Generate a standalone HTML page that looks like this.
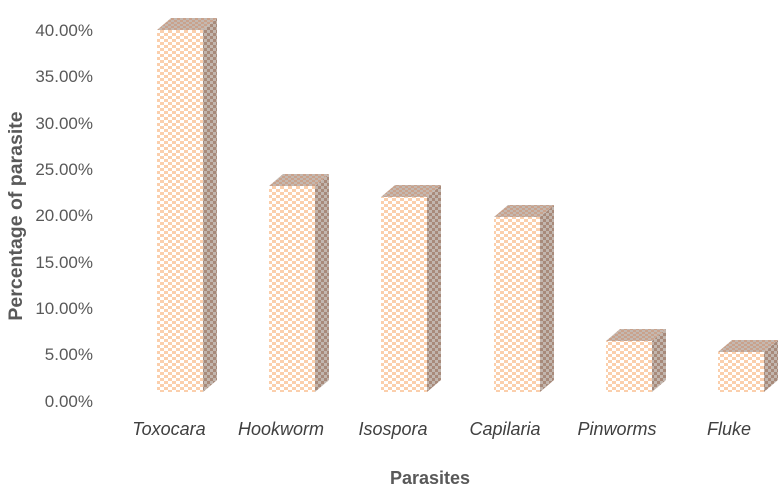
<!DOCTYPE html>
<html><head><meta charset="utf-8"><style>
html,body{margin:0;padding:0;background:#fff;}
</style></head><body>
<svg width="784" height="491" xmlns="http://www.w3.org/2000/svg" font-family="Liberation Sans, sans-serif">
<defs>
<pattern id="f" width="8" height="6" patternUnits="userSpaceOnUse">
<rect width="8" height="6" fill="#fff"/>
<rect x="0" y="0" width="4" height="3" fill="#fbcfac"/>
<rect x="4" y="3" width="4" height="3" fill="#fbcfac"/>
</pattern>
<pattern id="s" width="6" height="6" patternUnits="userSpaceOnUse">
<rect width="6" height="6" fill="#c2b6ae"/>
<rect x="0" y="0" width="3" height="3" fill="#a88a7a"/>
<rect x="3" y="3" width="3" height="3" fill="#a88a7a"/>
</pattern>
<pattern id="t" width="6" height="4" patternUnits="userSpaceOnUse">
<rect width="6" height="4" fill="#c4b8b0"/>
<rect x="0" y="0" width="3" height="2" fill="#c9a28c"/>
<rect x="3" y="2" width="3" height="2" fill="#c9a28c"/>
</pattern>
</defs>
<g font-size="17" fill="#595959" text-anchor="end">
<text x="93" y="36">40.00%</text>
<text x="93" y="82">35.00%</text>
<text x="93" y="129">30.00%</text>
<text x="93" y="175">25.00%</text>
<text x="93" y="221">20.00%</text>
<text x="93" y="268">15.00%</text>
<text x="93" y="314">10.00%</text>
<text x="93" y="360">5.00%</text>
<text x="93" y="407">0.00%</text>
</g>
<g>
<g><rect x="157" y="30" width="46" height="362" fill="url(#f)"/><polygon points="203,30 217,18 217,380 203,392" fill="url(#s)"/><polygon points="157,30 171,18 217,18 203,30" fill="url(#t)"/></g>
<g><rect x="269" y="186" width="46" height="206" fill="url(#f)"/><polygon points="315,186 329,174 329,380 315,392" fill="url(#s)"/><polygon points="269,186 283,174 329,174 315,186" fill="url(#t)"/></g>
<g><rect x="381" y="197" width="46" height="195" fill="url(#f)"/><polygon points="427,197 441,185 441,380 427,392" fill="url(#s)"/><polygon points="381,197 395,185 441,185 427,197" fill="url(#t)"/></g>
<g><rect x="494" y="217" width="46" height="175" fill="url(#f)"/><polygon points="540,217 554,205 554,380 540,392" fill="url(#s)"/><polygon points="494,217 508,205 554,205 540,217" fill="url(#t)"/></g>
<g><rect x="606" y="341" width="46" height="51" fill="url(#f)"/><polygon points="652,341 666,329 666,380 652,392" fill="url(#s)"/><polygon points="606,341 620,329 666,329 652,341" fill="url(#t)"/></g>
<g><rect x="718" y="352" width="46" height="40" fill="url(#f)"/><polygon points="764,352 778,340 778,380 764,392" fill="url(#s)"/><polygon points="718,352 732,340 778,340 764,352" fill="url(#t)"/></g>
</g>
<g font-size="18" fill="#404040" font-style="italic" text-anchor="middle">
<text x="169" y="435">Toxocara</text>
<text x="281" y="435">Hookworm</text>
<text x="393" y="435">Isospora</text>
<text x="505" y="435">Capilaria</text>
<text x="617" y="435">Pinworms</text>
<text x="729" y="435">Fluke</text>
</g>
<text x="430" y="484" font-size="18" font-weight="bold" fill="#595959" text-anchor="middle">Parasites</text>
<text transform="translate(22,216) rotate(-90)" font-size="19.5" font-weight="bold" fill="#595959" text-anchor="middle">Percentage of parasite</text>
</svg>
</body></html>
